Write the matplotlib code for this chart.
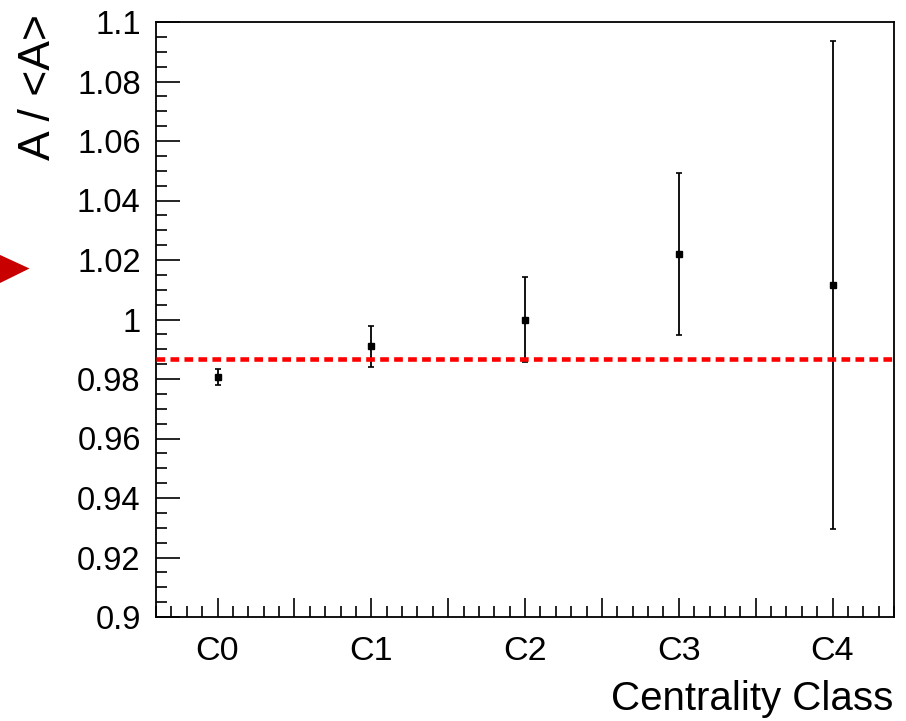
import matplotlib
matplotlib.use("Agg")
import matplotlib.pyplot as plt
from matplotlib.patches import Polygon
from matplotlib.ticker import MultipleLocator, NullFormatter

plt.rcParams['font.family'] = ['Liberation Sans', 'DejaVu Sans']

# Centrality classes and normalised amplitude A/<A>
classes = ["C0", "C1", "C2", "C3", "C4"]
ratio = [0.9808, 0.9910, 1.0000, 1.0220, 1.0117]
ratio_err = [0.0027, 0.0069, 0.0143, 0.0272, 0.0820]
mean_level = 0.9866

W, H = 906, 721
fig = plt.figure(figsize=(W / 100, H / 100), dpi=100)
ax = fig.add_axes([156 / W, (H - 617) / H, 738 / W, 595 / H])

xpos = list(range(len(classes)))
ax.errorbar(xpos, ratio, yerr=ratio_err, fmt='s', color='black',
            markersize=4, elinewidth=1.3, capsize=2.5, capthick=1.2, zorder=3)

ax.axhline(mean_level, color='#ff0000', lw=3.3, dashes=(1.9, 1.15), zorder=4)

ax.set_xlim(-0.4, 4.4)
ax.set_ylim(0.9, 1.1)

# x axis: labels at class centres, ROOT-style major/minor ticks
ax.xaxis.set_major_locator(MultipleLocator(0.5))
ax.xaxis.set_minor_locator(MultipleLocator(0.1))
ax.xaxis.set_major_formatter(NullFormatter())
for x, lab in zip(xpos, classes):
    ax.text(x, -0.032, lab, transform=ax.get_xaxis_transform(),
            ha='center', va='top', fontsize=24.5)

ax.yaxis.set_minor_locator(MultipleLocator(0.005))
ax.set_yticks([0.9, 0.92, 0.94, 0.96, 0.98, 1.0, 1.02, 1.04, 1.06, 1.08, 1.1])
ax.set_yticklabels(["0.9", "0.92", "0.94", "0.96", "0.98", "1", "1.02",
                    "1.04", "1.06", "1.08", "1.1"], fontsize=23.5)

ax.tick_params(axis='both', which='major', direction='in', width=1.2,
               top=False, right=False)
ax.tick_params(axis='x', which='major', length=14)
ax.tick_params(axis='y', which='major', length=17, pad=11)
ax.tick_params(axis='both', which='minor', direction='in', length=8,
               width=1.2, top=False, right=False)
for s in ax.spines.values():
    s.set_linewidth(1.3)

fig.text(38 / W, 1 - 14 / H, "A / <A>", rotation=90, ha='center', va='top',
         fontsize=32)
fig.text(893 / W, 11 / H, "Centrality Class", ha='right', va='baseline',
         fontsize=29)

# pointer arrowhead at the left margin
tri = Polygon([(-2 / W, 1 - 254 / H), (29.5 / W, 1 - 268.5 / H),
               (-2 / W, 1 - 284 / H)], closed=True,
              transform=fig.transFigure, facecolor='#c80000',
              edgecolor='none', clip_on=False)
fig.patches.append(tri)

fig.savefig("out.png", dpi=100)
